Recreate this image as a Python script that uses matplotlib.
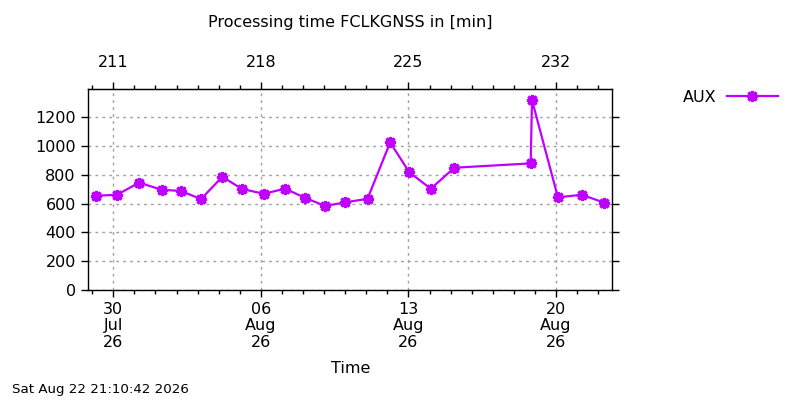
import matplotlib
matplotlib.use("Agg")
import matplotlib.pyplot as plt
import matplotlib.dates as mdates
import numpy as np
import pandas as pd

times = [
    "2026-07-29 04:00", "2026-07-30 04:15", "2026-07-31 05:15", "2026-08-01 07:00",
    "2026-08-02 05:00", "2026-08-03 03:50", "2026-08-04 04:05", "2026-08-05 02:30",
    "2026-08-06 03:15", "2026-08-07 03:30", "2026-08-08 02:15", "2026-08-09 01:00",
    "2026-08-09 23:45", "2026-08-11 01:25", "2026-08-12 03:10", "2026-08-13 01:00",
    "2026-08-14 01:25", "2026-08-15 04:20", "2026-08-18 19:10", "2026-08-18 20:40",
    "2026-08-20 02:10", "2026-08-21 05:15", "2026-08-22 07:00",
]
aux_minutes = [
    655, 662, 746, 697, 688, 632, 787, 702, 669, 704, 641, 584,
    609, 634, 1026, 818, 704, 850, 880, 1320, 644, 662, 607,
]
major_dates = ["2026-07-30", "2026-08-06", "2026-08-13", "2026-08-20"]
bottom_labels = ["30\nJul\n26", "06\nAug\n26", "13\nAug\n26", "20\nAug\n26"]
top_labels = ["211", "218", "225", "232"]
yticks = [0, 200, 400, 600, 800, 1000, 1200]
x_range = ["2026-07-28 19:30", "2026-08-22 16:05"]
title = "Processing time FCLKGNSS in [min]"
stamp = "Sat Aug 22 21:10:42 2026"

color = "#c000ff"
fs = 11.5

fig = plt.figure(figsize=(8, 4), dpi=100)
ax = fig.add_axes([88.3/800, 1-290/400, (612.3-88.3)/800, (290-89.3)/400])

t = pd.to_datetime(times)
line, = ax.plot(t, aux_minutes, color=color, lw=1.6, marker=(8, 2, 0),
                markersize=8, markeredgewidth=2.2, markeredgecolor=color, label="AUX")

xr = pd.to_datetime(x_range)
ax.set_xlim(xr[0], xr[1])
ax.set_ylim(0, 1395)

majors = pd.to_datetime(major_dates)
ax.set_xticks(majors)
ax.set_xticklabels(bottom_labels, linespacing=1.12)
ax.xaxis.set_minor_locator(mdates.DayLocator())
ax.set_yticks(yticks)
ax.set_yticklabels([str(v) for v in yticks])

ax.tick_params(axis="both", which="major", direction="out", length=5, width=1,
               labelsize=fs, pad=3.5)
ax.tick_params(axis="both", which="minor", direction="out", length=3, width=1)
ax.tick_params(axis="y", right=True, which="both")
ax.tick_params(axis="y", pad=4)

ax.grid(True, which="major", color="#a0a0a0", linestyle=(0, (2, 3)), linewidth=1)
for s in ax.spines.values():
    s.set_linewidth(1)

sec = ax.secondary_xaxis("top")
sec.set_xticks(majors)
sec.set_xticklabels(top_labels)
sec.xaxis.set_minor_locator(mdates.DayLocator())
sec.tick_params(which="major", direction="out", length=5, width=1, labelsize=fs, pad=9)
sec.tick_params(which="minor", direction="out", length=3, width=1)

ax.set_xlabel("Time", fontsize=fs, labelpad=8.5)

fig.text(350/800, 1-23/400, title, ha="center", va="center", fontsize=fs)
fig.text(12/800, 1-390/400, stamp, ha="left", va="center", fontsize=9.6)

leg = fig.legend(handles=[line], loc="center right", bbox_to_anchor=(784/800, 1-97/400),
                 frameon=False, markerfirst=False, handlelength=3.2, fontsize=fs,
                 handletextpad=0.6, borderaxespad=0)

fig.savefig("out.png", dpi=100)
